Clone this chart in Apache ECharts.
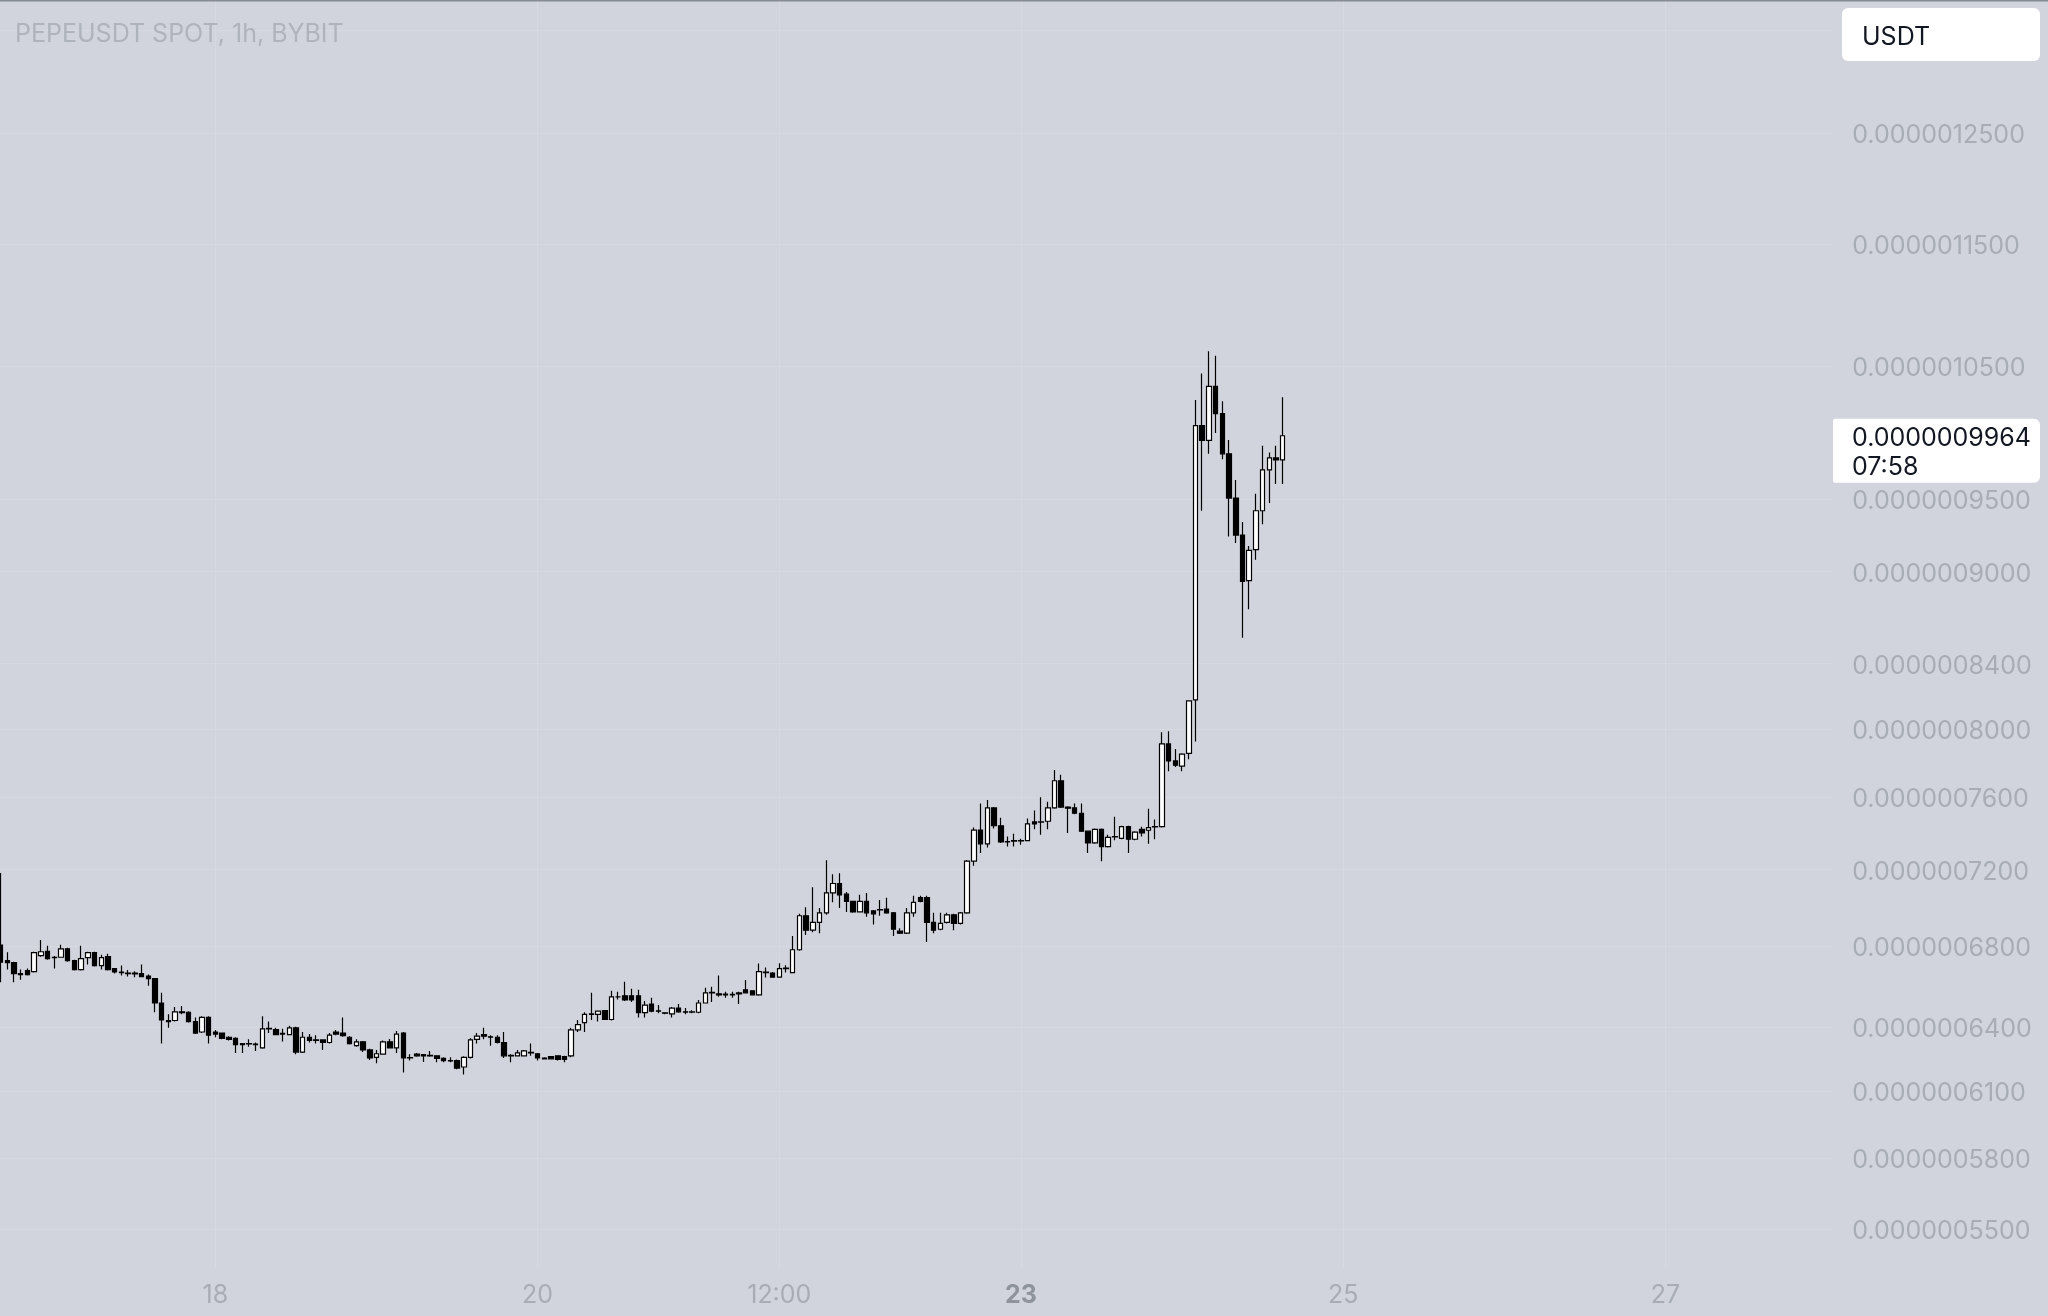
<!DOCTYPE html>
<html>
<head>
<meta charset="utf-8">
<script src="https://cdn.jsdelivr.net/npm/echarts@6/dist/echarts.min.js"></script>
<style>
html,body{margin:0;padding:0;background:#d1d4dc;}
#c{width:2048px;height:1316px;}
</style>
</head>
<body>
<div id="c"></div>
<script>
// Prices in units of 1e-10 USDT (PEPEUSDT, 1h candles, first candle = 16th 16:00)
const opens = [
6804,6725,6715,6660,6675,6670,6750,6772,6740,6742,
6785,6725,6680,6740,6765,6700,6745,6685,6668,6662,
6662,6660,6648,6635,6515,6430,6430,6472,6470,6425,
6375,6445,6375,6370,6350,6345,6320,6318,6318,6300,
6390,6387,6365,6362,6395,6280,6350,6337,6337,6325,
6375,6370,6350,6310,6328,6290,6255,6270,6328,6300,
6370,6252,6270,6268,6262,6262,6250,6240,6240,6210,
6255,6340,6362,6352,6350,6325,6262,6262,6262,6278,
6272,6252,6258,6262,6258,6262,6385,6420,6460,6460,
6478,6435,6545,6550,6550,6550,6468,6510,6477,6467,
6462,6490,6472,6470,6470,6515,6565,6560,6555,6555,
6560,6580,6575,6555,6668,6662,6642,6685,6665,6780,
6955,6880,6920,6970,7075,7125,7068,7030,6975,7030,
6980,6985,6990,6970,6875,6865,6970,7050,7050,6920,
6885,6920,6960,6915,6970,7245,7416,7340,7540,7440,
7350,7355,7358,7358,7462,7460,7465,7540,7695,7545,
7540,7510,7410,7345,7420,7325,7378,7370,7435,7365,
7420,7415,7433,7435,7910,7810,7780,7855,8175,10040,
9930,10340,10130,9830,9510,9250,8940,9150,9420,9712,
9800,9785
];
const closes = [
6717,6715,6660,6655,6655,6765,6770,6735,6742,6785,
6725,6680,6735,6765,6700,6740,6680,6668,6665,6660,
6658,6645,6635,6515,6433,6425,6472,6468,6425,6370,
6445,6360,6365,6345,6340,6315,6315,6320,6315,6390,
6392,6362,6368,6395,6280,6350,6335,6335,6325,6360,
6365,6358,6320,6328,6290,6252,6272,6328,6300,6365,
6252,6254,6262,6262,6264,6250,6240,6238,6205,6255,
6337,6355,6355,6350,6325,6262,6264,6276,6285,6276,
6252,6248,6248,6245,6245,6385,6410,6460,6462,6475,
6435,6545,6545,6530,6530,6468,6505,6475,6475,6465,
6490,6472,6470,6472,6515,6565,6567,6555,6558,6557,
6565,6565,6555,6670,6665,6642,6685,6687,6780,6955,
6880,6920,6970,7075,7125,7065,7030,6975,7030,6970,
6965,6987,6970,6885,6865,6970,7025,7030,6920,6880,
6915,6960,6915,6970,7245,7416,7340,7540,7440,7350,
7352,7358,7356,7450,7450,7462,7540,7695,7545,7538,
7510,7410,7345,7420,7325,7375,7380,7435,7365,7405,
7400,7430,7435,7910,7810,7785,7850,8170,10040,9930,
10340,10130,9830,9510,9250,8935,9145,9420,9712,9800,
9785,9964
];
const lows = [
6617,6680,6617,6630,6650,6665,6745,6730,6685,6740,
6720,6675,6675,6705,6695,6680,6675,6660,6650,6645,
6642,6642,6600,6470,6320,6395,6425,6460,6420,6365,
6370,6320,6350,6340,6335,6275,6275,6305,6285,6295,
6370,6360,6330,6360,6270,6275,6325,6320,6290,6320,
6360,6352,6315,6305,6280,6243,6228,6268,6298,6275,
6185,6240,6258,6233,6258,6232,6232,6232,6200,6175,
6250,6320,6340,6310,6320,6252,6232,6260,6260,6262,
6240,6245,6245,6240,6232,6255,6375,6375,6433,6425,
6432,6430,6532,6525,6520,6445,6445,6470,6465,6460,
6445,6468,6460,6465,6465,6512,6520,6545,6540,6540,
6510,6562,6552,6550,6640,6640,6640,6665,6662,6775,
6855,6870,6865,6960,7025,6995,6975,6970,6972,6950,
6910,6955,6965,6850,6860,6860,6950,7025,6820,6865,
6880,6915,6880,6910,6965,7220,7290,7320,7425,7345,
7325,7325,7335,7355,7420,7390,7420,7535,7540,7400,
7505,7405,7290,7340,7245,7320,7360,7365,7290,7360,
7380,7340,7365,7430,7750,7775,7750,7820,7925,9420,
9830,9985,9790,9240,9195,8565,8750,9080,9325,9475,
9610,9610
];
const highs = [
7181,6768,6720,6680,6685,6770,6830,6800,6748,6805,
6790,6730,6800,6770,6770,6755,6760,6688,6700,6678,
6672,6705,6655,6638,6565,6460,6495,6500,6475,6445,
6450,6450,6385,6372,6355,6350,6322,6340,6325,6450,
6425,6395,6390,6405,6400,6375,6365,6360,6340,6370,
6385,6445,6355,6340,6332,6295,6290,6335,6342,6380,
6375,6270,6275,6270,6285,6265,6255,6255,6245,6260,
6345,6370,6395,6360,6360,6375,6270,6290,6290,6320,
6275,6255,6260,6265,6262,6395,6433,6470,6565,6478,
6480,6575,6570,6620,6585,6580,6525,6540,6505,6470,
6495,6510,6490,6480,6530,6590,6595,6650,6570,6570,
6570,6628,6578,6710,6690,6668,6712,6702,6850,6965,
7000,7105,6995,7250,7175,7180,7080,7032,7065,7075,
6985,7037,7050,6975,6890,6995,7060,7060,7060,6970,
6970,6970,6965,6975,7252,7430,7565,7585,7545,7485,
7380,7395,7368,7480,7525,7600,7575,7757,7730,7550,
7565,7565,7412,7425,7425,7390,7490,7440,7440,7410,
7435,7535,7475,7980,7985,7880,7855,8172,10234,10440,
10615,10580,10225,9932,9640,9340,9175,9540,9890,9840,
9890,10255
];

// Price-scale ticks (units of 1e-10)
const yTicks = [13500,12500,11500,10500,9500,9000,8400,8000,7600,7200,6800,6400,6100,5800,5500];
// Time-scale ticks
const xTickSlots = ['18 00:00','20 00:00','21 12:00','23 00:00','25 00:00','27 00:00'];
const xTickLabels = ['18','20','12:00','23','25','27'];
const boldTick = '23';
const titleText = 'PEPEUSDT SPOT, 1h, BYBIT';
const currencyText = 'USDT';
const countdownText = '07:58';

// hourly slots of the time scale (includes empty future slots)
const START_DAY = 16, START_HOUR = 16, N_SLOTS = 274;
const categories = [];
for (let i = 0; i < N_SLOTS; i++) {
  const t = START_HOUR + i;
  const d = START_DAY + Math.floor(t / 24);
  const h = t % 24;
  categories.push(d + ' ' + String(h).padStart(2, '0') + ':00');
}

const FONT = 'Inter, "Noto Sans", sans-serif';
const GRID_COLOR = '#d6d9e0';
const LABEL_COLOR = '#a8acb5';
const fmtPrice = v => (v * 1e-10).toFixed(10);

const candleData = opens.map((o, i) => [o, closes[i], lows[i], highs[i]]);

const chart = echarts.init(document.getElementById('c'), null, {renderer: 'canvas'});

const isTick = (idx, val) => xTickSlots.indexOf(val) >= 0;

chart.setOption({
  backgroundColor: '#d1d4dc',
  animation: false,
  grid: {left: 0.6, top: 0, width: 1832.6, height: 1268, outerBoundsMode: 'none'},
  xAxis: {
    type: 'category',
    data: categories,
    boundaryGap: false,
    axisLine: {show: false},
    axisTick: {show: false},
    axisLabel: {
      interval: isTick,
      margin: 15,
      fontSize: 25,
      fontFamily: FONT,
      color: LABEL_COLOR,
      formatter: function (val) {
        const k = xTickSlots.indexOf(val);
        if (k < 0) return '';
        const s = xTickLabels[k];
        return s === boldTick ? '{b|' + s + '}' : s;
      },
      rich: {b: {fontWeight: 'bold', color: '#8f939c', fontSize: 25, fontFamily: FONT}}
    },
    splitLine: {show: true, interval: isTick, lineStyle: {color: GRID_COLOR, width: 1}}
  },
  yAxis: {
    type: 'log',
    min: 5342,
    max: 13810,
    show: false
  },
  series: [{
    type: 'candlestick',
    data: candleData,
    barWidth: 5,
    clip: true,
    itemStyle: {
      color: '#ffffff',
      color0: '#000000',
      borderColor: '#000000',
      borderColor0: '#000000',
      borderColorDoji: '#000000',
      borderWidth: 1.2
    },
    markLine: {
      silent: true,
      symbol: 'none',
      z: 1,
      animation: false,
      lineStyle: {color: GRID_COLOR, width: 1, type: 'solid'},
      label: {
        show: true,
        position: 'end',
        distance: 19,
        offset: [0, 2.5],
        fontSize: 25,
        fontFamily: FONT,
        color: LABEL_COLOR,
        formatter: p => fmtPrice(p.value)
      },
      emphasis: {disabled: true},
      data: yTicks.map(v => ({yAxis: v}))
    }
  }]
});

const lastClose = closes[closes.length - 1];
const py = chart.convertToPixel({yAxisIndex: 0}, lastClose);

chart.setOption({
  graphic: [
    {type: 'rect', shape: {x: 0, y: 0, width: 2048, height: 1.5}, style: {fill: '#868a94'}, z: 100},
    {type: 'text', left: 15, top: 22, style: {text: titleText, fontSize: 25, fontFamily: FONT, fill: '#afb3bc'}, z: 100},
    {type: 'rect', shape: {x: 1842, y: 8, width: 198, height: 53, r: 6}, style: {fill: '#ffffff'}, z: 100},
    {type: 'text', x: 1862, y: 37, style: {text: currencyText, fontSize: 25, fontFamily: FONT, fill: '#131722', verticalAlign: 'middle'}, z: 101},
    {type: 'rect', shape: {x: 1833, y: py - 17, width: 207, height: 64, r: [2, 6, 6, 2]}, style: {fill: '#ffffff'}, z: 100},
    {type: 'text', x: 1852, y: py + 3, style: {text: fmtPrice(lastClose), fontSize: 25, fontFamily: FONT, fill: '#131722', verticalAlign: 'middle'}, z: 101},
    {type: 'text', x: 1852, y: py + 32, style: {text: countdownText, fontSize: 25, fontFamily: FONT, fill: '#131722', verticalAlign: 'middle'}, z: 101}
  ]
});
</script>
</body>
</html>
